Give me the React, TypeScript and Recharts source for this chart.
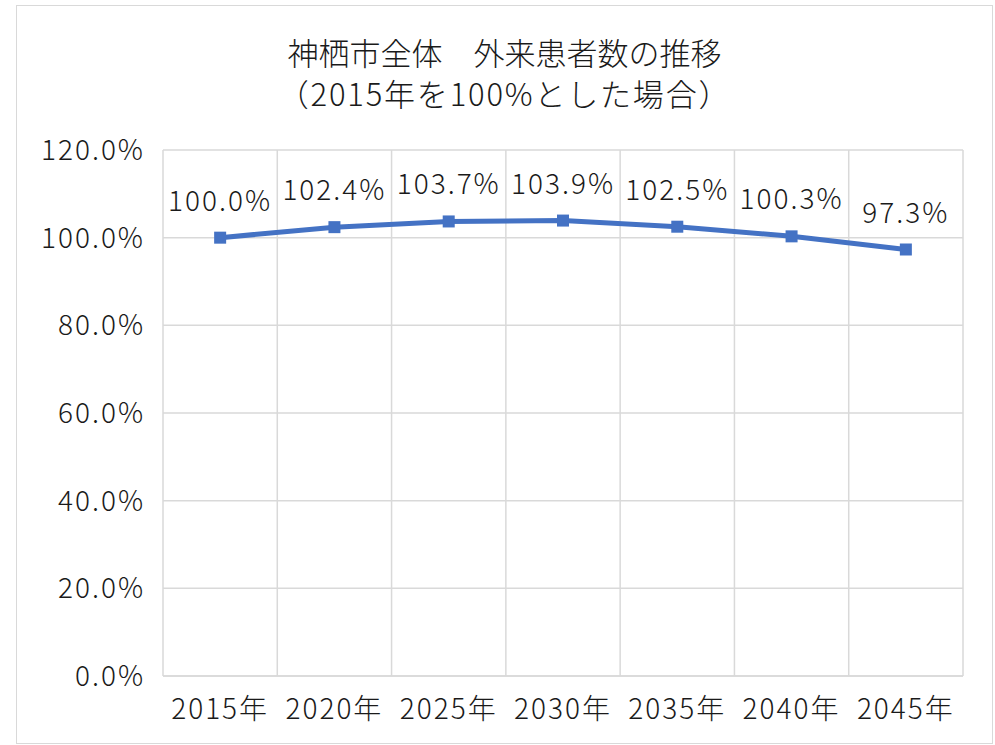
import React from "react";
import {
  LineChart,
  Line,
  XAxis,
  YAxis,
  CartesianGrid,
  ReferenceLine,
  LabelList,
} from "recharts";

// 年次と比率（2015年=100%）
const years = ["2015年", "2020年", "2025年", "2030年", "2035年", "2040年", "2045年"];
const ratios = [1.0, 1.024, 1.037, 1.039, 1.025, 1.003, 0.973];
const yTicks = [0, 0.2, 0.4, 0.6, 0.8, 1.0, 1.2];

const FONT = "'Noto Sans CJK JP', 'Noto Sans', sans-serif";
const GRID = "#d9d9d9";
const LINE = "#4472C4";
const TXT = "#1a1a1a";

const data = years.map((name, i) => ({ x: i + 0.5, name, value: ratios[i] }));
const xTicks = data.map((d) => d.x);
const boundaries = years.map((_, i) => i).concat(years.length);

const pct = (v: number) => (v * 100).toFixed(1) + "%";

const tickStyle = {
  fontSize: 28,
  fill: TXT,
  fontFamily: FONT,
  fontWeight: 300,
  letterSpacing: 2,
};

const Square = (props: any) => {
  const { cx, cy } = props;
  if (cx == null || cy == null) return null;
  return <rect x={cx - 6} y={cy - 6} width={12} height={12} fill={LINE} />;
};

export default function App() {
  return (
    <div
      style={{
        position: "absolute",
        left: 16,
        top: 5,
        width: 975,
        height: 737,
        border: `1.5px solid ${GRID}`,
        background: "#fff",
        fontFamily: FONT,
      }}
    >
      <div
        style={{
          position: "absolute",
          left: 0,
          top: 25,
          width: "100%",
          textAlign: "center",
          fontSize: 31,
          fontWeight: 300,
          lineHeight: "41px",
          color: TXT,
        }}
      >
        <div>神栖市全体　外来患者数の推移</div>
        <div style={{ letterSpacing: 1.8 }}>（2015年を100%とした場合）</div>
      </div>
      <LineChart
        width={975}
        height={737}
        data={data}
        margin={{ top: 144, right: 29, bottom: 20, left: 0 }}
      >
        <CartesianGrid vertical={false} stroke={GRID} strokeWidth={1.5} />
        {boundaries.map((b) => (
          <ReferenceLine key={b} x={b} stroke={GRID} strokeWidth={1.5} />
        ))}
        <XAxis
          type="number"
          dataKey="x"
          domain={[0, years.length]}
          ticks={xTicks}
          tickFormatter={(v: number) => years[Math.floor(v)]}
          axisLine={{ stroke: GRID, strokeWidth: 1.5 }}
          tickLine={false}
          tickSize={0}
          tickMargin={23}
          height={47}
          interval={0}
          tick={tickStyle}
        />
        <YAxis
          domain={[0, 1.2]}
          ticks={yTicks}
          tickFormatter={pct}
          axisLine={false}
          tickLine={false}
          tickSize={0}
          tickMargin={18}
          width={146}
          tick={tickStyle}
        />
        <Line
          type="linear"
          dataKey="value"
          stroke={LINE}
          strokeWidth={5}
          dot={<Square />}
          activeDot={false}
          isAnimationActive={false}
        >
          <LabelList
            dataKey="value"
            position="top"
            offset={27}
            formatter={pct}
            style={tickStyle}
          />
        </Line>
      </LineChart>
    </div>
  );
}
